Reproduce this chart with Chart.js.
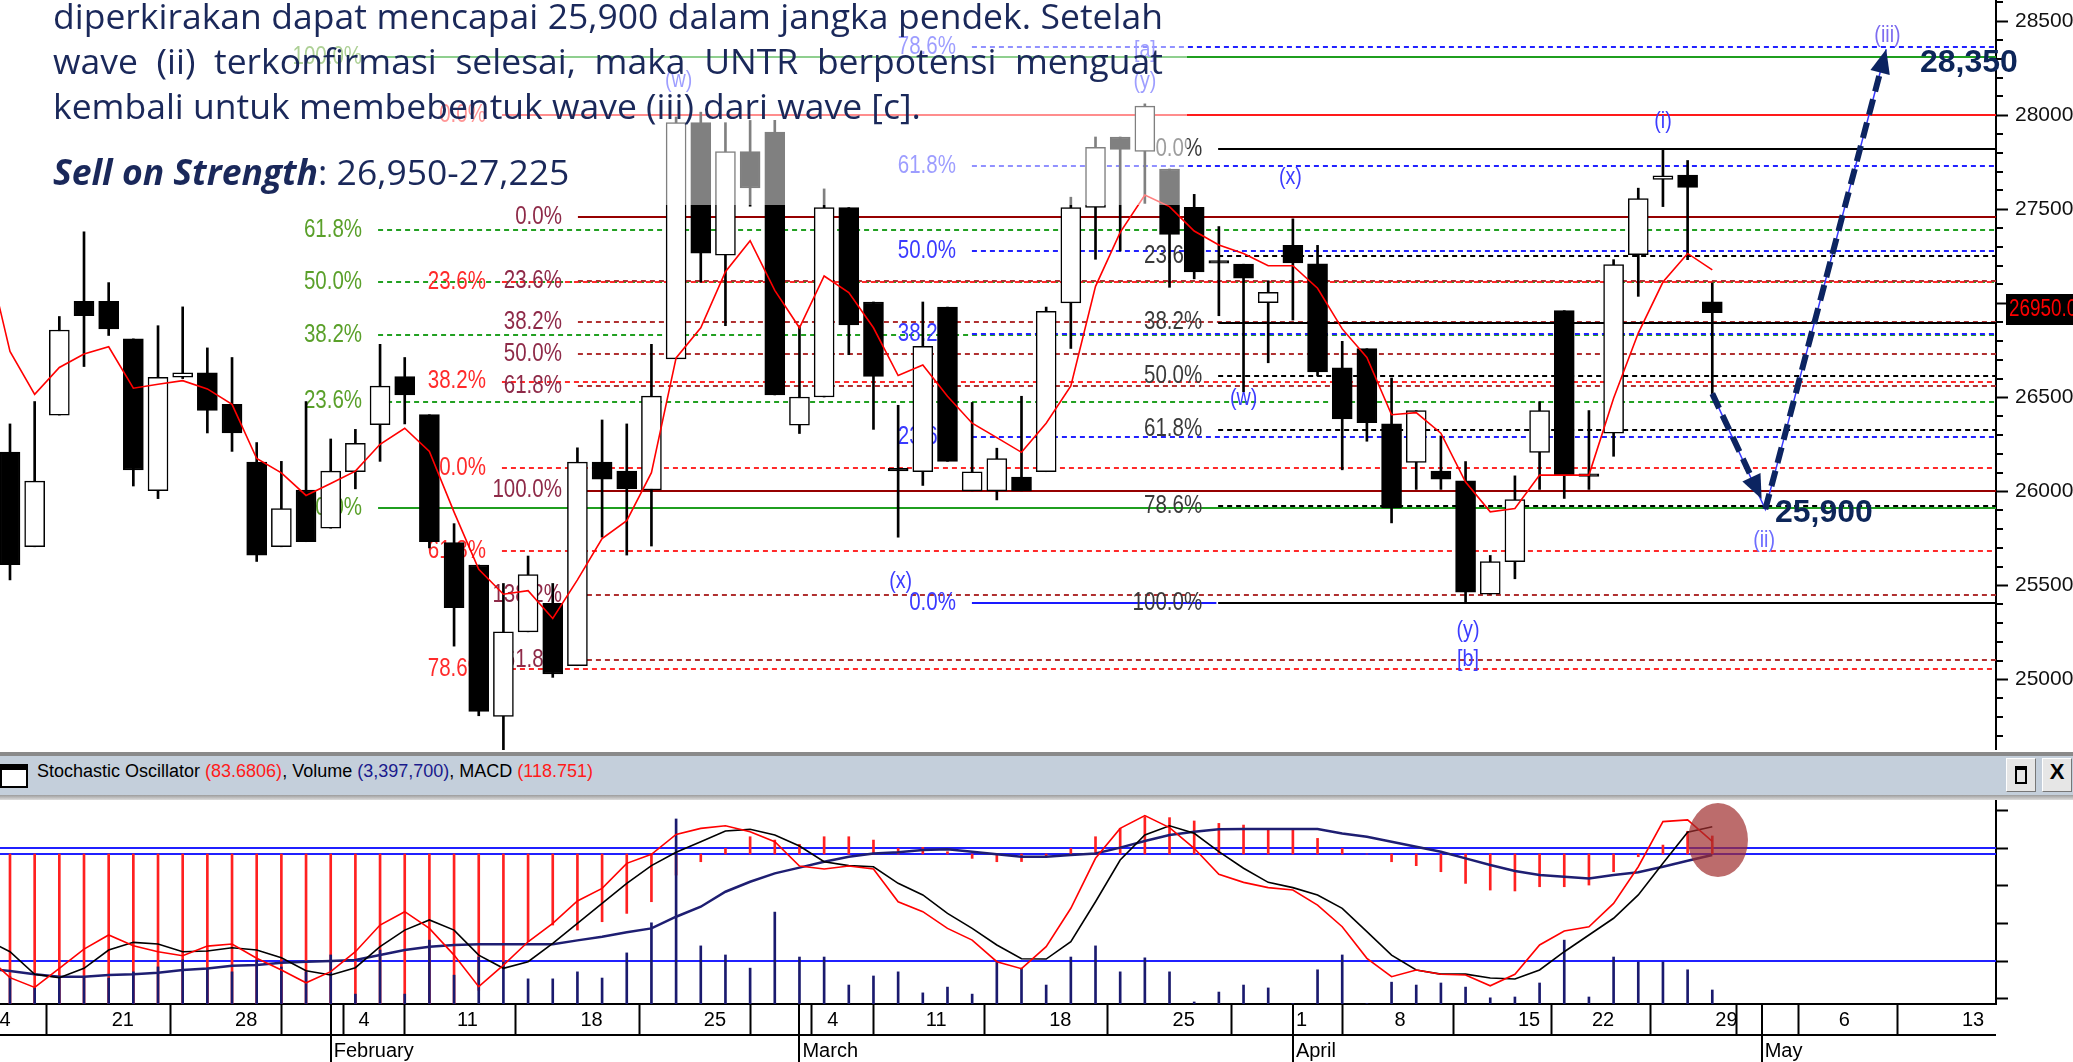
<!DOCTYPE html>
<html>
<head>
<meta charset="utf-8">
<title>UNTR daily</title>
<script src="https://cdn.jsdelivr.net/npm/chart.js@4.4.1/dist/chart.umd.min.js"></script>
<style>
  html, body { margin: 0; padding: 0; background: #fff; }
  body { width: 2073px; height: 1062px; position: relative; overflow: hidden; }
  canvas { position: absolute; left: 0; }
  #cMain { top: 0; }
  #cLow { top: 800px; }
  #note { position: absolute; left: 0; top: 0; width: 1187px; height: 205px; background: rgba(255,255,255,0.5);
          font-family: 'Open Sans', sans-serif; font-size: 35.5px; color: #1a285a; overflow: hidden; }
  .ln { position: absolute; left: 53px; white-space: nowrap; line-height: 45px; }
  #sep1 { position: absolute; left: 0; top: 752px; width: 2073px; height: 4px; background: #8a8a8a; }
  #hdr { position: absolute; left: 0; top: 756px; width: 2073px; height: 39px; background: #c4cfdb; }
  #sep2 { position: absolute; left: 0; top: 795px; width: 2073px; height: 5px; background: linear-gradient(#9c9c9c, #dcdcdc); }
  #ico { position: absolute; left: 0; top: 8px; width: 28px; height: 24px; border: 2px solid #000; border-top-width: 6px; background: #fff; box-sizing: border-box; }
  #htxt { position: absolute; left: 37px; top: 5px; line-height: 34px; color: #000; white-space: nowrap; }
  .r { color: #ff1a1a; }
  .b { color: #1a1a8c; }
  .btn { position: absolute; top: 2px; width: 30px; height: 34px; background: #e6e6e6; box-sizing: border-box;
         border: 1px solid #fff; border-right-color: #777; border-bottom-color: #777; }
  #bmax { left: 2006px; }
  #bmax div { position: absolute; left: 8px; top: 7px; width: 12px; height: 18px; border: 2px solid #000; border-top-width: 4px; box-sizing: border-box; }
  #bx { left: 2042px; text-align: center; line-height: 32px; font-weight: bold; }
  .target { position: absolute; font-family: 'Liberation Sans', Arial, sans-serif; font-weight: bold; font-size: 32px; line-height: 32px; color: #0d2659; white-space: nowrap; }
</style>
</head>
<body>
<canvas id="cMain" width="2073" height="750"></canvas>
<canvas id="cLow" width="2073" height="262"></canvas>

<div id="note">
  <div class="ln jl" style="top:-7px"><span>diperkirakan dapat mencapai 25,900 dalam jangka pendek. Setelah</span></div>
  <div class="ln jl" style="top:38px"><span>wave (ii) terkonfirmasi selesai, maka UNTR berpotensi menguat</span></div>
  <div class="ln" style="top:83px"><span>kembali untuk membebentuk wave (iii) dari wave [c].</span></div>
  <div class="ln" style="top:149px"><span><b><i>Sell on Strength</i></b>: 26,950-27,225</span></div>
</div>

<div id="sep1"></div>
<div id="hdr">
  <div id="ico"></div>
  <div id="htxt">Stochastic Oscillator <span class="r">(83.6806)</span>, Volume <span class="b">(3,397,700)</span>, MACD <span class="r">(118.751)</span></div>
  <div class="btn" id="bmax"><div></div></div>
  <div class="btn" id="bx">X</div>
</div>
<div id="sep2"></div>

<div class="target" style="left:1920px; top:45px">28,350</div>
<div class="target" style="left:1775px; top:495px">25,900</div>

<script>
// ---- hari bursa (Jan 14 = indeks -1, di luar layar) ----
const tradingDays = ['01-14','01-15','01-16','01-17','01-18','01-21','01-22','01-23','01-24','01-25',
  '01-28','01-29','01-30','01-31','02-01','02-04','02-06','02-07','02-08','02-11',
  '02-12','02-13','02-14','02-15','02-18','02-19','02-20','02-21','02-22','02-25',
  '02-26','02-27','02-28','03-01','03-04','03-05','03-06','03-08','03-11','03-12',
  '03-13','03-14','03-15','03-18','03-19','03-20','03-21','03-22','03-25','03-26',
  '03-27','03-28','03-29','04-01','04-02','04-04','04-05','04-08','04-09','04-10',
  '04-11','04-12','04-15','04-16','04-18','04-22','04-23','04-24','04-25','04-26','04-29'];
const futureDays = ['04-30','05-01','05-02','05-03','05-06','05-07','05-08','05-09','05-10','05-13','05-14'];

// harga OHLC (urutan sama dengan tradingDays)
const opens = [null,
  26209,25706,26406,27010,27010,26811,26004,26607,26630,26463,
  26156,25706,26008,25805,26105,26355,26611,26408,25729,25609,
  24805,25254,25406,25074,26156,26108,26008,26705,27961,27256,
  27807,27910,26352,26502,27509,27007,26116,26105,26980,26003,
  26003,26076,26105,27002,27509,27884,27807,27714,27510,27220,
  27208,27003,27308,27210,26657,26759,26360,26154,26108,26057,
  25454,25627,26208,26961,26087,26310,27258,27659,27681,27008];
const highs = [null,
  26359,26478,26930,27380,27110,26811,26881,26981,26763,26712,
  26260,26160,26478,26279,26330,26782,26712,26408,25829,25609,
  25511,25657,25511,26232,26380,26359,26782,27990,28016,27960,
  27972,27972,26881,27608,27509,27007,26458,27007,26980,26473,
  26230,26506,26980,27564,27884,27884,28060,27714,27579,27408,
  27208,27120,27449,27308,26798,26759,26603,26430,26295,26159,
  25660,26083,26477,26961,26430,27232,27612,27813,27759,27108];
const lows = [null,
  25530,25706,26406,26664,26829,26029,25962,26600,26311,26213,
  25628,25706,25733,25805,26014,26160,26359,25700,25178,24808,
  24600,25254,25012,25074,25757,25662,25710,26705,27112,26881,
  27516,26513,26308,26502,26727,26330,25757,26032,26160,26003,
  25955,26003,26105,26760,27234,27278,27531,27085,27130,26934,
  26530,26684,26911,26614,26115,26267,25833,26011,26011,25410,
  25454,25536,26011,25963,26011,26187,27037,27514,27232,26520];
const closes = [null,
  25611,26055,26858,26934,26864,26114,26607,26630,26431,26311,
  25662,25909,25733,26108,26256,26560,26513,25733,25383,24831,
  25254,25558,25030,26156,26065,26014,26507,27961,27267,27807,
  27613,26513,26502,27509,26885,26612,26116,26771,26160,26105,
  26175,26003,26958,27509,27829,27818,28048,27366,27167,27220,
  27134,27058,27215,26636,26386,26365,25913,26430,26065,25465,
  25627,25957,26430,26087,26087,27206,27557,27677,27616,26950];
// garis rata-rata (merah)
const movingAvg = [27300,
  26744,26516,26659,26731,26769,26549,26570,26589,26545,26463,
  26175,26099,25979,26042,26108,26251,26336,26213,25890,25586,
  25454,25473,25325,25530,25750,25845,26100,26710,26870,27168,
  27333,27069,26870,27145,27057,26870,26616,26672,26506,26363,
  26286,26208,26363,26561,27090,27377,27575,27514,27384,27310,
  27265,27200,27200,27080,26864,26712,26408,26419,26310,26050,
  25892,25909,26087,26087,26087,26495,26842,27113,27265,27178];

// panel bawah
const stochK = [23.4,
  11.2,6.0,16.2,26.4,33.9,28.2,25.0,22.9,28.0,29.1,
  21.5,15.3,8.5,14.4,25.0,39.2,46.3,37.4,23.2,6.4,
  17.9,30.3,40.1,52.0,58.7,72.0,76.8,87.4,90.6,92.0,
  88.8,83.5,70.6,69.0,70.6,69.0,51.6,46.3,37.4,31.2,
  19.7,16.0,27.7,48.1,74.7,90.6,97.4,91.0,80.0,66.2,
  61.9,59.1,57.8,49.8,38.3,21.5,11.7,15.3,13.0,12.6,
  6.9,13.0,28.6,36.0,38.3,50.7,70.2,94.2,95.1,83.7];
const stochD = [31.6,
  25.0,13.0,11.2,16.2,25.9,30.0,29.1,25.0,25.4,27.1,
  25.9,21.8,14.9,12.6,16.5,27.7,36.5,41.9,36.5,23.2,
  16.2,19.7,29.5,40.1,50.7,61.4,70.8,77.9,83.5,89.2,
  90.1,87.1,81.2,72.9,70.8,70.2,61.4,55.2,45.4,37.4,
  28.6,21.3,21.1,30.4,51.6,73.8,87.1,92.0,88.0,78.2,
  69.4,61.9,59.1,55.2,48.1,35.7,23.2,15.3,13.1,13.1,
  11.0,10.5,15.3,25.0,33.9,42.8,55.2,72.0,88.5,91.5];
const macdLine = [-757,
  -772,-794,-810,-810,-799,-794,-783,-766,-755,-737,
  -733,-717,-711,-706,-700,-667,-634,-612,-601,-596,
  -596,-596,-596,-570,-546,-517,-491,-414,-348,-249,
  -183,-128,-90,-51,-18,4,11,26,31,15,
  -2,-18,-18,-7,4,42,86,125,147,163,
  165,165,165,165,136,114,81,48,15,-29,
  -73,-112,-139,-150,-161,-139,-121,-84,-44,-7];
const macdHist = [-1100,
  -1100,-1100,-1100,-1100,-1100,-1100,-1100,-1100,-1100,-1100,
  -1100,-1100,-1100,-1100,-1100,-1100,-1100,-1100,-1100,-900,
  -760,-579,-469,-502,-447,-392,-315,-139,-51,37,
  114,92,64,114,114,92,37,44,15,-29,
  -51,-50,-18,37,114,169,246,240,218,202,
  191,158,158,103,37,0,-51,-77,-117,-194,
  -238,-244,-216,-216,-205,-117,-18,59,150,119];
// volume (juta lembar)
const volume = [7.3,
  6.6,3.9,6.6,6.6,6.3,7.8,9.0,10.7,8.5,7.8,
  10.7,9.0,7.8,11.9,2.4,13.1,2.4,15.5,7.0,11.4,
  10.2,6.1,6.1,7.8,6.3,12.4,19.7,44.9,14.1,11.9,
  8.7,22.3,11.4,11.4,4.6,6.8,7.8,2.7,4.1,2.4,
  10.2,8.7,4.6,11.4,14.1,7.8,11.2,7.8,0.5,2.9,
  4.6,3.9,0.1,8.3,11.9,0.1,5.3,4.6,5.1,4.1,
  1.5,1.7,5.1,15.5,1.7,11.4,10.2,10.2,8.3,3.4];

// label sumbu
const priceTicks = [25000, 25500, 26000, 26500, 27000, 27500, 28000, 28500];
const stochTicks = [0, 10, 20, 30, 40, 50, 60, 70, 80, 90, 100];
const stochLevels = [80, 20];
const weekTicks = ['01-14','01-21','01-28','02-04','02-11','02-18','02-25','03-04','03-11','03-18','03-25',
  '04-01','04-08','04-15','04-22','04-29','05-06','05-13'];
const monthTicks = ['02-01','03-01','04-01','05-01'];
const monthNames = ['February','March','April','May'];
const lastPrice = 26950;

// fibonacci retracement
const greenPrices = [28310, 27387, 27115, 26830, 26478, 25910];
const greenNames = ['100.0%','61.8%','50.0%','38.2%','23.6%','0.0%'];
const greenSolid = [1,0,0,0,0,1];
const redPrices = [28000, 27115, 26584, 26125, 25684, 25057];
const redNames = ['0.0%','23.6%','38.2%','50.0%','61.8%','78.6%'];
const redSolid = [1,0,0,0,0,0];
const maroonPrices = [27459, 27116, 26900, 26732, 26560, 26005, 25450, 25105];
const maroonNames = ['0.0%','23.6%','38.2%','50.0%','61.8%','100.0%','138.2%','161.8%'];
const maroonSolid = [1,0,0,0,0,1,0,0];
const bluePrices = [28360, 27729, 27278, 26836, 26289, 25405];
const blueNames = ['78.6%','61.8%','50.0%','38.2%','23.6%','0.0%'];
const blueSolid = [0,0,0,0,0,1];
const blackPrices = [27820, 27251, 26898, 26613, 26329, 25923, 25407];
const blackNames = ['0.0%','23.6%','38.2%','50.0%','61.8%','78.6%','100.0%'];
const blackSolid = [1,0,1,0,0,0,1];

// label gelombang elliott
const waveText = ['(w)','[a]','(y)','(x)','(x)','(w)','(i)','(y)','[b]','(ii)','(iii)'];
const waveDay = [27.1, 46.0, 46.0, 36.1, 51.9, 50.0, 67.0, 59.1, 59.1, 71.1, 76.1];
const wavePrice = [28186, 28346, 28181, 25524, 27671, 26497, 27969, 25264, 25105, 25742, 28426];
const arrowDown = [[69.0, 26520], [71.0, 25960]];
const arrowUp = [[71.15, 25905], [76.05, 28350]];
const circleAt = [69.23, 84.4];

// ---------------------------------------------------
function fontAvailable(name) {
  const c = document.createElement('canvas').getContext('2d');
  const s = 'mmmmmmmmmmlli0123456789%';
  c.font = '40px monospace';
  const a = c.measureText(s).width;
  c.font = '40px "' + name + '", monospace';
  return c.measureText(s).width !== a;
}
const NARROW = fontAvailable('Liberation Sans Narrow');
const FAMILY = NARROW ? '"Liberation Sans Narrow", "Liberation Sans", sans-serif' : '"Liberation Sans", Arial, sans-serif';
const SX = NARROW ? 1 : 0.82;
const AXIS_SIZE = NARROW ? 26 : 21;
const XLAB_SIZE = NARROW ? 24 : 20;

document.getElementById('htxt').style.font = (NARROW ? '22px ' : '18px ') + FAMILY;
document.getElementById('bx').style.font = 'bold ' + (NARROW ? '26px ' : '22px ') + FAMILY;

// rata kanan-kiri untuk dua baris pertama teks
document.querySelectorAll('.jl span').forEach(sp => {
  const w = sp.getBoundingClientRect().width;
  const gaps = sp.textContent.split(' ').length - 1;
  sp.style.wordSpacing = ((1110 - w) / gaps) + 'px';
});

const days = tradingDays.concat(futureDays);
const dayIndex = d => days.indexOf(d) - 1;
const xMin = -0.405, xMax = 80.5;

const bodyData = [], bodyFill = [], wickData = [];
for (let p = 0; p < tradingDays.length; p++) {
  if (opens[p] == null) continue;
  const o = opens[p], c = closes[p];
  const flat = Math.abs(c - o) < 15;
  bodyData.push({ x: p - 1, y: flat ? [c - 7, c + 7] : [Math.min(o, c), Math.max(o, c)] });
  bodyFill.push(c > o && !flat ? '#ffffff' : '#000000');
  wickData.push({ x: p - 1, y: [lows[p], highs[p]] });
}
const series = arr => arr.map((v, p) => ({ x: p - 1, y: v }));

function drawText(ctx, text, x, y, align, size, color) {
  ctx.save();
  ctx.translate(x, y);
  ctx.scale(SX, 1);
  ctx.font = size + 'px ' + FAMILY;
  ctx.fillStyle = color;
  ctx.textAlign = align;
  ctx.textBaseline = 'middle';
  ctx.fillText(text, 0, 0);
  ctx.restore();
}
function hLine(ctx, x0, x1, y, color, width, dash) {
  ctx.beginPath();
  ctx.setLineDash(dash);
  ctx.strokeStyle = color;
  ctx.lineWidth = width;
  const yy = Math.round(y);
  ctx.moveTo(x0, yy);
  ctx.lineTo(x1, yy);
  ctx.stroke();
}

const fibGroups = [
  { prices: greenPrices, names: greenNames, solid: greenSolid, from: 14.92, solidColor: '#1f9e1f', dashColor: '#22a022', text: '#5aa02a' },
  { prices: redPrices, names: redNames, solid: redSolid, from: 19.94, solidColor: '#ff1a1a', dashColor: '#ff2a2a', text: '#ff2a2a' },
  { prices: maroonPrices, names: maroonNames, solid: maroonSolid, from: 23.02, solidColor: '#960000', dashColor: '#b03030', text: '#8e2a48' },
  { prices: bluePrices, names: blueNames, solid: blueSolid, from: 38.99, solidColor: '#1a1aff', dashColor: '#2222ff', text: '#3a3aff', solidTo: 48.9 },
  { prices: blackPrices, names: blackNames, solid: blackSolid, from: 48.97, solidColor: '#000000', dashColor: '#000000', text: '#3a3a3a' }
];

const mainDecor = {
  id: 'mainDecor',
  beforeDatasetsDraw(chart) {
    const { ctx, chartArea: a, scales: { x, y } } = chart;
    ctx.save();
    ctx.beginPath();
    ctx.rect(a.left, a.top, a.right - a.left, a.bottom - a.top);
    ctx.clip();
    fibGroups.forEach(g => {
      const x0 = x.getPixelForValue(g.from);
      g.prices.forEach((pv, k) => {
        const py = y.getPixelForValue(pv);
        const solid = g.solid[k] === 1;
        const x1 = solid && g.solidTo ? x.getPixelForValue(g.solidTo) : a.right;
        hLine(ctx, x0, x1, py, solid ? g.solidColor : g.dashColor, 2, solid ? [] : [5, 4]);
        drawText(ctx, g.names[k], x0 - 16, py, 'right', 25, g.text);
      });
    });
    ctx.restore();
  },
  afterDatasetsDraw(chart) {
    const { ctx, chartArea: a, scales: { x, y } } = chart;
    ctx.save();
    ctx.beginPath();
    ctx.rect(a.left, a.top, a.right - a.left, a.bottom - a.top);
    ctx.clip();
    waveText.forEach((t, k) => {
      const col = t === '(ii)' ? '#6d6dff' : (t === '(iii)' ? '#7d6cf0' : '#3c3cff');
      drawText(ctx, t, x.getPixelForValue(waveDay[k]), y.getPixelForValue(wavePrice[k]), 'center', 24, col);
    });
    // garis gelombang tipis
    const P = pt => [x.getPixelForValue(pt[0]), y.getPixelForValue(pt[1])];
    const a0 = P(arrowDown[0]), a1 = P(arrowDown[1]), b0 = P(arrowUp[0]), b1 = P(arrowUp[1]);
    ctx.setLineDash([]);
    ctx.strokeStyle = '#3a3aff';
    ctx.lineWidth = 1.5;
    ctx.beginPath();
    ctx.moveTo(a0[0], a0[1]); ctx.lineTo(b0[0], b0[1]); ctx.lineTo(b1[0], b1[1]);
    ctx.stroke();
    // panah putus-putus
    const arrow = (s, e) => {
      const dx = e[0] - s[0], dy = e[1] - s[1], len = Math.hypot(dx, dy);
      const ux = dx / len, uy = dy / len, hl = 24, hw = 10;
      const bx = e[0] - ux * hl, by = e[1] - uy * hl;
      ctx.strokeStyle = '#0c2461';
      ctx.lineWidth = 6;
      ctx.setLineDash([16, 8]);
      ctx.beginPath();
      ctx.moveTo(s[0], s[1]); ctx.lineTo(bx, by);
      ctx.stroke();
      ctx.setLineDash([]);
      ctx.fillStyle = '#0c2461';
      ctx.beginPath();
      ctx.moveTo(e[0], e[1]);
      ctx.lineTo(bx - uy * hw, by + ux * hw);
      ctx.lineTo(bx + uy * hw, by - ux * hw);
      ctx.closePath();
      ctx.fill();
    };
    arrow(a0, a1);
    arrow(b0, b1);
    ctx.restore();
  },
  afterDraw(chart) {
    const { ctx, chartArea: a, scales: { y } } = chart;
    ctx.save();
    ctx.fillStyle = '#000';
    for (let v = 24700; v <= 28600; v += 100) {
      if (v % 500 === 0) continue;
      const py = Math.round(y.getPixelForValue(v));
      ctx.fillRect(a.right, py - 1, 7, 2);
    }
    const py = y.getPixelForValue(lastPrice);
    ctx.fillRect(2006, Math.round(py - 19), 67, 31);
    drawText(ctx, lastPrice.toFixed(2), 2009, py - 3, 'left', 23, '#ff0000');
    ctx.restore();
  }
};

new Chart(document.getElementById('cMain'), {
  type: 'bar',
  data: {
    datasets: [
      { type: 'line', data: series(movingAvg), borderColor: '#ff0000', borderWidth: 1.6, pointRadius: 0, order: 0 },
      { data: bodyData, backgroundColor: bodyFill, borderColor: '#000', borderWidth: 1.5, borderSkipped: false,
        barThickness: 20, grouped: false, order: 1 },
      { data: wickData, backgroundColor: '#000', borderWidth: 0, barThickness: 2, grouped: false, order: 2 }
    ]
  },
  options: {
    responsive: false, animation: false, devicePixelRatio: 1,
    layout: { padding: 0, autoPadding: false },
    plugins: { legend: { display: false }, tooltip: { enabled: false } },
    scales: {
      x: { type: 'linear', min: xMin, max: xMax, display: false, offset: false },
      y: {
        position: 'right', min: 24626, max: 28612,
        afterBuildTicks: s => { s.ticks = priceTicks.map(v => ({ value: v })); },
        afterFit: s => { s.width = 77; s.paddingTop = 0; s.paddingBottom = 0; },
        grid: { drawOnChartArea: false, drawTicks: true, tickLength: 12, tickColor: '#000', tickWidth: 2 },
        border: { display: true, color: '#000', width: 2 },
        ticks: { padding: 7, color: '#111', font: { family: FAMILY, size: AXIS_SIZE }, callback: v => String(v) }
      }
    }
  },
  plugins: [mainDecor]
});

// ---------------- panel stochastic / volume / macd ----------------
const xTickValues = Array.from(new Set(weekTicks.concat(monthTicks).map(dayIndex))).sort((p, q) => p - q);
function xTickLabel(v) {
  const d = days[v + 1];
  const wk = weekTicks.includes(d) ? String(parseInt(d.slice(3), 10)) : '';
  const m = monthTicks.indexOf(d);
  return m >= 0 ? [wk, monthNames[m]] : wk;
}

const lowDecor = {
  id: 'lowDecor',
  beforeDatasetsDraw(chart) {
    const { ctx, chartArea: a, scales } = chart;
    ctx.save();
    stochLevels.forEach(v => hLine(ctx, a.left, a.right, scales.y.getPixelForValue(v), '#2020ff', 2, []));
    hLine(ctx, a.left, a.right, scales.macd.getPixelForValue(0), '#2020ff', 2, []);
    ctx.restore();
  },
  afterDraw(chart) {
    const { ctx, chartArea: a, scales: { x, y } } = chart;
    ctx.save();
    ctx.fillStyle = '#000';
    ctx.fillRect(a.left, a.bottom + 30, a.right - a.left, 2);
    monthTicks.forEach(d => {
      const px = Math.round(x.getPixelForValue(dayIndex(d)));
      ctx.fillRect(px - 1, a.bottom, 2, chart.height - a.bottom);
    });
    ctx.fillStyle = 'rgba(160,45,45,0.7)';
    ctx.beginPath();
    ctx.ellipse(x.getPixelForValue(circleAt[0]), y.getPixelForValue(circleAt[1]), 30, 37, 0, 0, Math.PI * 2);
    ctx.fill();
    ctx.restore();
  }
};

new Chart(document.getElementById('cLow'), {
  type: 'bar',
  data: {
    datasets: [
      { type: 'line', data: series(stochK), borderColor: '#ff0000', borderWidth: 1.6, pointRadius: 0, yAxisID: 'y', order: 0 },
      { type: 'line', data: series(stochD), borderColor: '#000000', borderWidth: 1.6, pointRadius: 0, yAxisID: 'y', order: 1 },
      { type: 'line', data: series(macdLine), borderColor: '#1e1e72', borderWidth: 2.5, pointRadius: 0, yAxisID: 'macd', order: 2 },
      { data: series(volume), backgroundColor: '#1a1a6e', borderWidth: 0, barThickness: 2, grouped: false, yAxisID: 'vol', order: 3 },
      { data: macdHist.map((v, p) => ({ x: p - 1, y: [0, v] })), backgroundColor: '#ff2020', borderWidth: 0,
        barThickness: 2, grouped: false, yAxisID: 'macd', order: 4 }
    ]
  },
  options: {
    responsive: false, animation: false, devicePixelRatio: 1,
    layout: { padding: 0, autoPadding: false },
    plugins: { legend: { display: false }, tooltip: { enabled: false } },
    scales: {
      x: {
        type: 'linear', min: xMin, max: xMax, position: 'bottom', offset: false,
        afterBuildTicks: s => { s.ticks = xTickValues.map(v => ({ value: v })); },
        afterFit: s => { s.height = 58; s.paddingLeft = 0; s.paddingRight = 0; },
        grid: { drawOnChartArea: false, drawTicks: true, tickLength: 31, tickColor: '#000', tickWidth: 2 },
        border: { display: true, color: '#000', width: 2 },
        ticks: { autoSkip: false, maxRotation: 0, minRotation: 0, align: 'start', labelOffset: 3, padding: -30,
                 color: '#000', font: { family: FAMILY, size: XLAB_SIZE, lineHeight: '31px' }, callback: v => xTickLabel(v) }
      },
      y: {
        position: 'right', min: -2.8, max: 105.7,
        afterBuildTicks: s => { s.ticks = stochTicks.map(v => ({ value: v })); },
        afterFit: s => { s.width = 77; s.paddingTop = 0; s.paddingBottom = 0; },
        grid: { drawOnChartArea: false, drawTicks: true, tickLength: 12, tickColor: '#000', tickWidth: 2 },
        border: { display: true, color: '#000', width: 2 },
        ticks: { padding: 37, color: '#111', font: { family: FAMILY, size: AXIS_SIZE }, callback: v => (v === 50 ? '50' : '') }
      },
      macd: { display: false, min: -990, max: 356.4 },
      vol: { display: false, min: 0, max: 49.5 }
    }
  },
  plugins: [lowDecor]
});
</script>
</body>
</html>
